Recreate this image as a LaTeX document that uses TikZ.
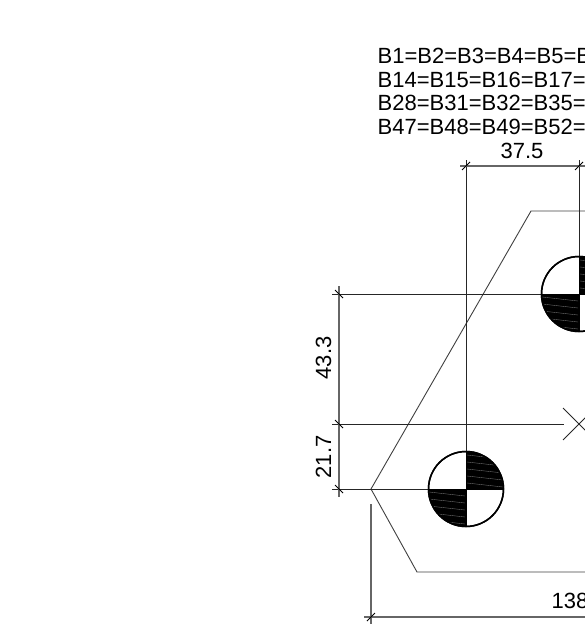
\documentclass[tikz,border=0pt]{standalone}
\usepackage{fontspec}
\usetikzlibrary{calc}
\setmainfont{Liberation Sans}
\tikzstyle{member} = [line width=0.9pt, draw=black!75]
\tikzstyle{extline} = [line width=0.9pt, draw=black!85]
\tikzstyle{dimline} = [line width=1.1pt, draw=black!60]
\tikzstyle{tick} = [line width=0.8pt, draw=black]
\tikzstyle{dimtext} = [inner sep=0pt, font=\fontsize{22pt}{24pt}\selectfont, text=black]
\tikzstyle{bolt} = [line width=1.5pt, draw=black, fill=white]

\begin{document}
\begin{tikzpicture}[x=1pt, y=-1pt]
            \useasboundingbox (0,0) rectangle (585,637);
            \clip (0,0) rectangle (585,637);

            \node (line1) [dimtext, anchor=base west] at (377.5,63) {B1=B2=B3=B4=B5=B};
            \node (line2) [dimtext, anchor=base west] at (377.5,87) {B14=B15=B16=B17=};
            \node (line3) [dimtext, anchor=base west] at (377.5,110.5) {B28=B31=B32=B35=};
            \node (line4) [dimtext, anchor=base west] at (377.5,134.5) {B47=B48=B49=B52=};
            \node (pitch) [dimtext, anchor=base] at (522,158) {37.5};
            \node (gaugeup) [dimtext, anchor=base, rotate=90] at (331,358) {43.3};
            \node (gaugelow) [dimtext, anchor=base, rotate=90] at (331,457) {21.7};
            \node (width) [dimtext, anchor=base west] at (551.5,608) {138};

            % plate outline
            \coordinate (left) at (371,489);
            \coordinate (topleft) at (531,211);
            \coordinate (topright) at (590,211);
            \coordinate (botleft) at (417,572);
            \coordinate (botright) at (590,572);
            \draw [member] (topright) -- (topleft) -- (left) -- (botleft) -- (botright);

            % bolts
            \coordinate (bolt1) at (466,489);
            \coordinate (bolt2) at (579,294);
            \coordinate (center) at (579,424);

            % extension lines
            \draw [extline] (466,160) -- (bolt1);
            \draw [extline] (579,160) -- (bolt2);
            \draw [extline] (332,294) -- (bolt2);
            \draw [extline] (332,424) -- (564,424);
            \draw [extline] (332,489) -- (bolt1);
            \draw [extline] (563,408) -- (595,440);
            \draw [extline] (563,440) -- (595,408);

            \foreach \b in {bolt1, bolt2} {
                \draw [bolt] (\b) circle (37.5);
                \begin{scope}
                    \clip (\b) circle (37.5);
                    \fill [black] (\b) rectangle ++(38,-38);
                    \fill [black] (\b) rectangle ++(-38,38);
                    \foreach \h in {6,13,20,27,34} {
                        \draw [black!55, line width=0.35pt] ($(\b)+(1,-\h)$) -- ++(36,4);
                        \draw [black!55, line width=0.35pt] ($(\b)+(-37,\h-3)$) -- ++(36,4);
                    }
                \end{scope}
                \draw [line width=1.5pt] (\b) circle (37.5);
                \draw [line width=1pt] ($(\b)+(-37.5,0)$) -- ($(\b)+(37.5,0)$);
                \draw [line width=1pt] ($(\b)+(0,-37.5)$) -- ($(\b)+(0,37.5)$);
            }

            % dimension lines
            \coordinate (pitchA) at (466,166);
            \coordinate (pitchB) at (579,166);
            \coordinate (gaugeA) at (339,294);
            \coordinate (gaugeB) at (339,424);
            \coordinate (gaugeC) at (339,489);
            \coordinate (widthA) at (371,617);

            \draw [dimline] (460,166) -- (590,166);
            \draw [dimline] (339,286) -- (339,497);
            \draw [dimline] (371,504) -- (371,624);
            \draw [dimline] (364,617) -- (590,617);

            \foreach \t in {pitchA, pitchB, widthA} {
                \draw [tick] ($(\t)+(-4,4)$) -- ($(\t)+(4,-4)$);
            }
            \foreach \t in {gaugeA, gaugeB, gaugeC} {
                \draw [tick] ($(\t)+(-4,-4)$) -- ($(\t)+(4,4)$);
            }
\end{tikzpicture}
\end{document}
